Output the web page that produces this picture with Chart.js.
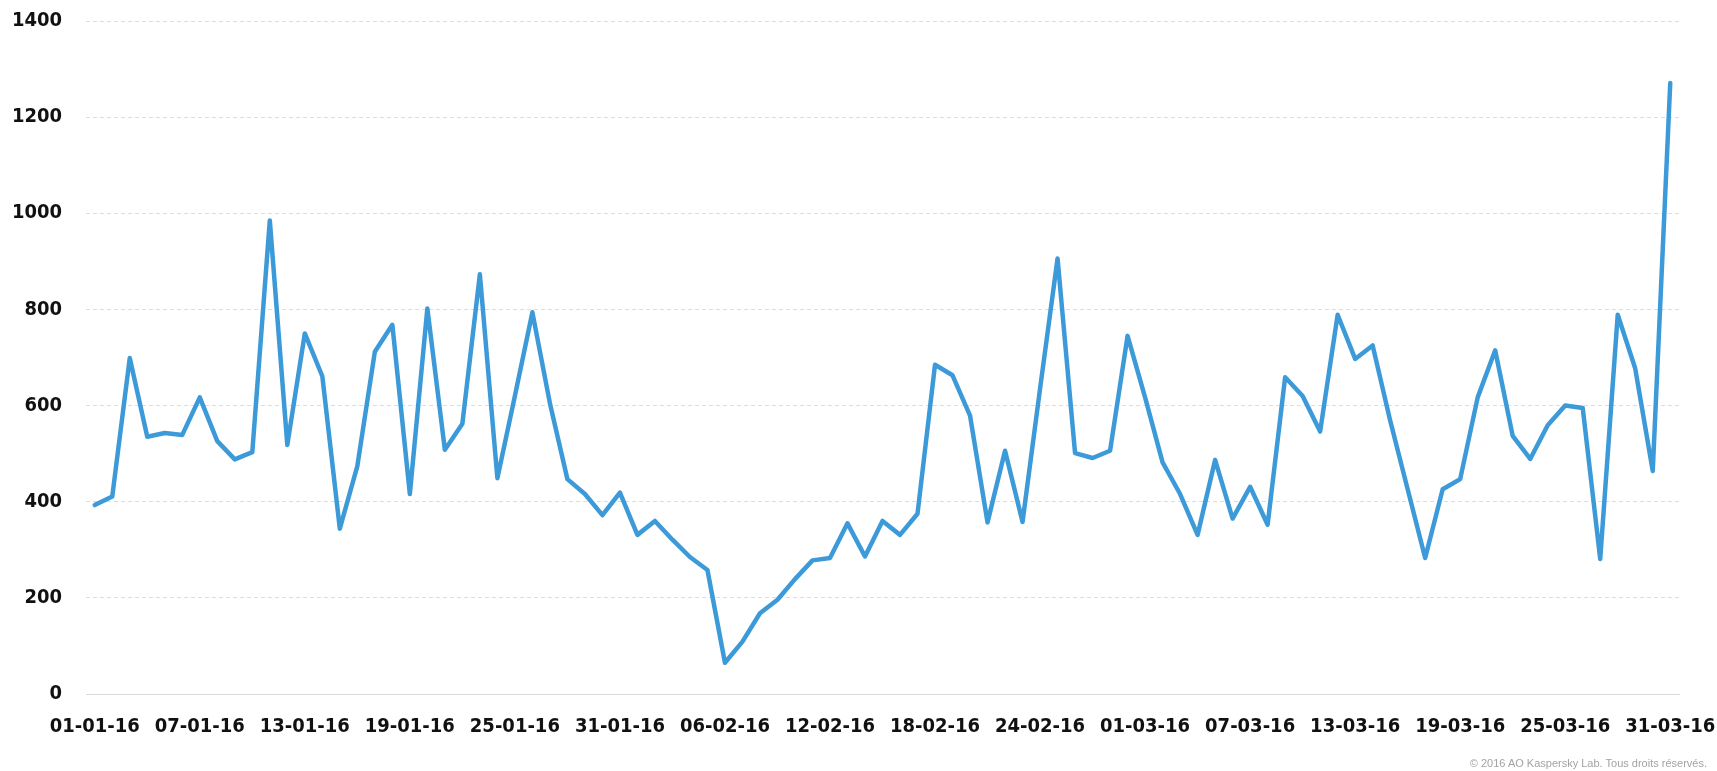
<!DOCTYPE html>
<html>
<head>
<meta charset="utf-8">
<script src="https://cdn.jsdelivr.net/npm/chart.js@4/dist/chart.umd.min.js"></script>
<style>
  html, body { margin: 0; padding: 0; background: #fff; }
  #wrap { position: relative; width: 1717px; height: 771px; }
  #copy { position: absolute; right: 10px; top: 757px; font: 11px 'Liberation Sans', Arial, sans-serif; color: #a3a3a3; white-space: nowrap; line-height: 13px; }
</style>
</head>
<body>
<div id="wrap">
  <canvas id="c" width="1717" height="771"></canvas>
  <div id="copy">© 2016 AO Kaspersky Lab. Tous droits réservés.</div>
</div>
<script>
const categories = [
  '01-01-16','02-01-16','03-01-16','04-01-16','05-01-16','06-01-16','07-01-16','08-01-16','09-01-16','10-01-16',
  '11-01-16','12-01-16','13-01-16','14-01-16','15-01-16','16-01-16','17-01-16','18-01-16','19-01-16','20-01-16',
  '21-01-16','22-01-16','23-01-16','24-01-16','25-01-16','26-01-16','27-01-16','28-01-16','29-01-16','30-01-16',
  '31-01-16',
  '01-02-16','02-02-16','03-02-16','04-02-16','05-02-16','06-02-16','07-02-16','08-02-16','09-02-16','10-02-16',
  '11-02-16','12-02-16','13-02-16','14-02-16','15-02-16','16-02-16','17-02-16','18-02-16','19-02-16','20-02-16',
  '21-02-16','22-02-16','23-02-16','24-02-16','25-02-16','26-02-16','27-02-16','28-02-16','29-02-16',
  '01-03-16','02-03-16','03-03-16','04-03-16','05-03-16','06-03-16','07-03-16','08-03-16','09-03-16','10-03-16',
  '11-03-16','12-03-16','13-03-16','14-03-16','15-03-16','16-03-16','17-03-16','18-03-16','19-03-16','20-03-16',
  '21-03-16','22-03-16','23-03-16','24-03-16','25-03-16','26-03-16','27-03-16','28-03-16','29-03-16','30-03-16',
  '31-03-16'
];
const values = [
  393, 411, 699, 535, 543, 539, 617, 526, 488, 503,
  985, 518, 750, 661, 344, 474, 712, 768, 416, 802,
  508, 562, 873, 449, 620, 794, 605, 447, 416, 372,
  419,
  331, 360, 321, 285, 258, 65, 109, 168, 196, 239,
  278, 283, 355, 286, 360, 331, 375, 685, 663, 579,
  357, 506, 358, 635, 906, 501, 491, 506,
  745, 617, 482, 416, 331, 487, 365, 431, 352, 659,
  620, 546, 789, 697, 725, 569, 426, 283, 426, 447,
  617, 715, 537, 489, 559, 600, 595, 281, 789, 677,
  464, 1271
];
const yTicks = [0, 200, 400, 600, 800, 1000, 1200, 1400];
const labelEvery = 6;

const fam = "'DejaVu Sans Condensed', 'DejaVu Sans', sans-serif";
const xFont = { family: fam, size: 20, weight: 'bold' };
const yFont = { family: fam, size: 20, weight: 'bold' };

new Chart(document.getElementById('c'), {
  type: 'line',
  data: {
    labels: categories,
    datasets: [{
      data: values,
      borderColor: '#3d9ad9',
      borderWidth: 4.5,
      borderJoinStyle: 'round',
      borderCapStyle: 'round',
      pointRadius: 0,
      pointHoverRadius: 0,
      tension: 0,
      fill: false
    }]
  },
  options: {
    responsive: false,
    animation: false,
    layout: { padding: { top: 21, right: 38, left: 0, bottom: 0 } },
    plugins: { legend: { display: false }, tooltip: { enabled: false } },
    scales: {
      x: {
        offset: true,
        grid: { display: true, drawOnChartArea: false, color: 'rgba(0,0,0,0)', drawTicks: true, tickLength: 21, tickColor: 'rgba(0,0,0,0)' },
        border: { display: true, color: '#d9d9d9', width: 1 },
        ticks: {
          autoSkip: false,
          maxRotation: 0,
          minRotation: 0,
          padding: 0,
          color: '#111',
          font: xFont,
          callback: function(v, i) { return i % labelEvery === 0 ? categories[i] : null; }
        },
        afterFit: function(s) { s.height = 77; }
      },
      y: {
        min: yTicks[0],
        max: yTicks[yTicks.length - 1],
        afterBuildTicks: function(s) { s.ticks = yTicks.map(v => ({ value: v })); },
        grid: { color: '#dcdcdc', lineWidth: 1, drawTicks: true, tickLength: 24, tickColor: 'rgba(0,0,0,0)' },
        border: { display: false, dash: [4, 3] },
        ticks: { padding: 0, color: '#111', font: yFont, callback: function(v) { return String(v); } },
        afterFit: function(s) { s.width = 86; }
      }
    }
  }
});
</script>
</body>
</html>
